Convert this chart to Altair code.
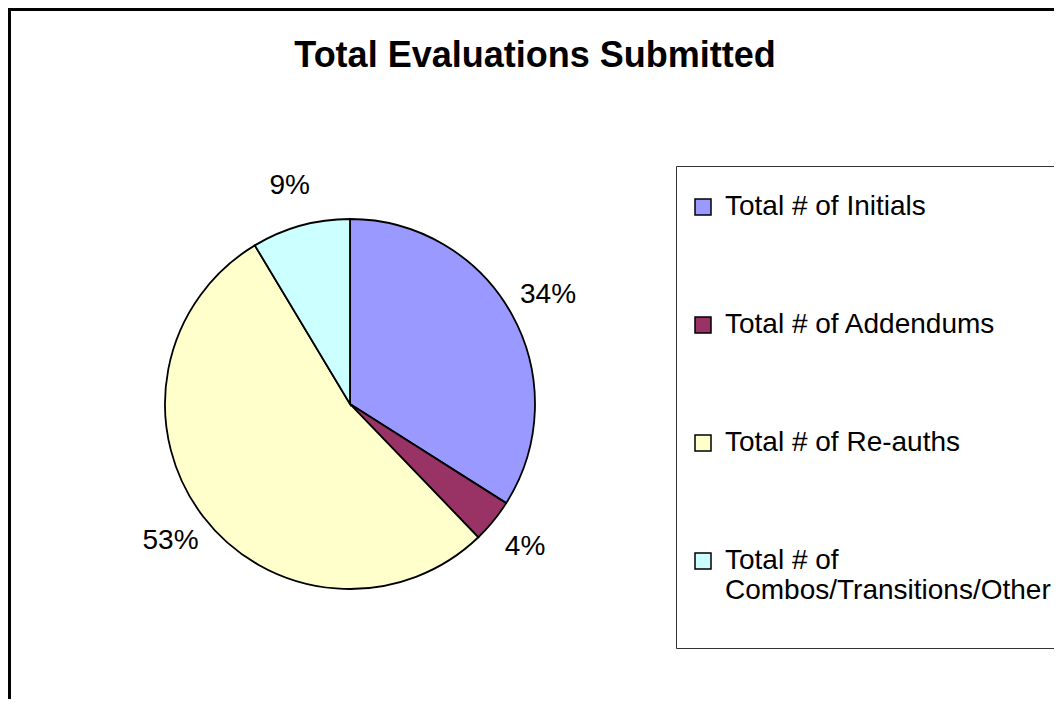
import altair as alt
import pandas as pd

categories = [
    "Total # of Initials",
    "Total # of Addendums",
    "Total # of Re-auths",
    "Total # of Combos/Transitions/Other",
]
shares = [34.0, 3.8, 53.6, 8.6]
labels = ["34%", "4%", "53%", "9%"]
colors = ["#9999FF", "#993366", "#FFFFCC", "#CCFFFF"]
title_text = "Total Evaluations Submitted"

df = pd.DataFrame({
    "category": categories,
    "share": shares,
    "label": labels,
    "order": list(range(len(categories))),
})

FONT = "Liberation Sans"
W, H = 1046, 691
CX, CY = 342, 396

base = alt.Chart(df).encode(
    theta=alt.Theta("share:Q", stack=True),
    order=alt.Order("order:Q"),
)

legend_expr = (
    "datum.label == 'Total # of Combos/Transitions/Other' ? "
    "['Total # of', 'Combos/Transitions/Other', ''] : datum.label"
)

pie = base.mark_arc(radius=185, stroke="black", strokeWidth=1.8).encode(
    x=alt.value(CX),
    y=alt.value(CY),
    color=alt.Color(
        "category:N",
        sort=categories,
        scale=alt.Scale(domain=categories, range=colors),
        legend=alt.Legend(
            title=" ",
            titleFontSize=1,
            titlePadding=13,
            orient="none",
            legendX=668,
            legendY=158,
            symbolType="square",
            symbolSize=256,
            symbolStrokeColor="black",
            symbolStrokeWidth=1.5,
            labelFontSize=28,
            labelFont=FONT,
            labelColor="black",
            labelOffset=8,
            labelLimit=600,
            rowPadding=90,
            padding=13,
            strokeColor="#333333",
            fillColor="white",
            labelExpr=legend_expr,
        ),
    ),
)

text = base.mark_text(radius=226, fontSize=28, font=FONT, color="black").encode(
    x=alt.value(CX),
    y=alt.value(CY),
    text="label:N",
)

one_df = pd.DataFrame({"title": [title_text]})
title_mark = alt.Chart(one_df).mark_text(
    fontSize=36, font=FONT, fontWeight="bold", color="black",
    align="center", baseline="alphabetic",
).encode(x=alt.value(527), y=alt.value(59), text="title:N")

top_rule = alt.Chart(one_df).mark_rule(color="black", strokeWidth=3).encode(
    x=alt.value(0), x2=alt.value(W), y=alt.value(1.5)
)
left_rule = alt.Chart(one_df).mark_rule(color="black", strokeWidth=3).encode(
    x=alt.value(1.5), y=alt.value(0), y2=alt.value(H)
)

chart = alt.layer(pie, text, title_mark, top_rule, left_rule).properties(
    width=W,
    height=H,
    padding=0,
    autosize=alt.AutoSizeParams(type="none"),
).configure(background="white").configure_view(stroke=None)

chart.save("out.html", embed_options={"renderer": "svg", "actions": False})
